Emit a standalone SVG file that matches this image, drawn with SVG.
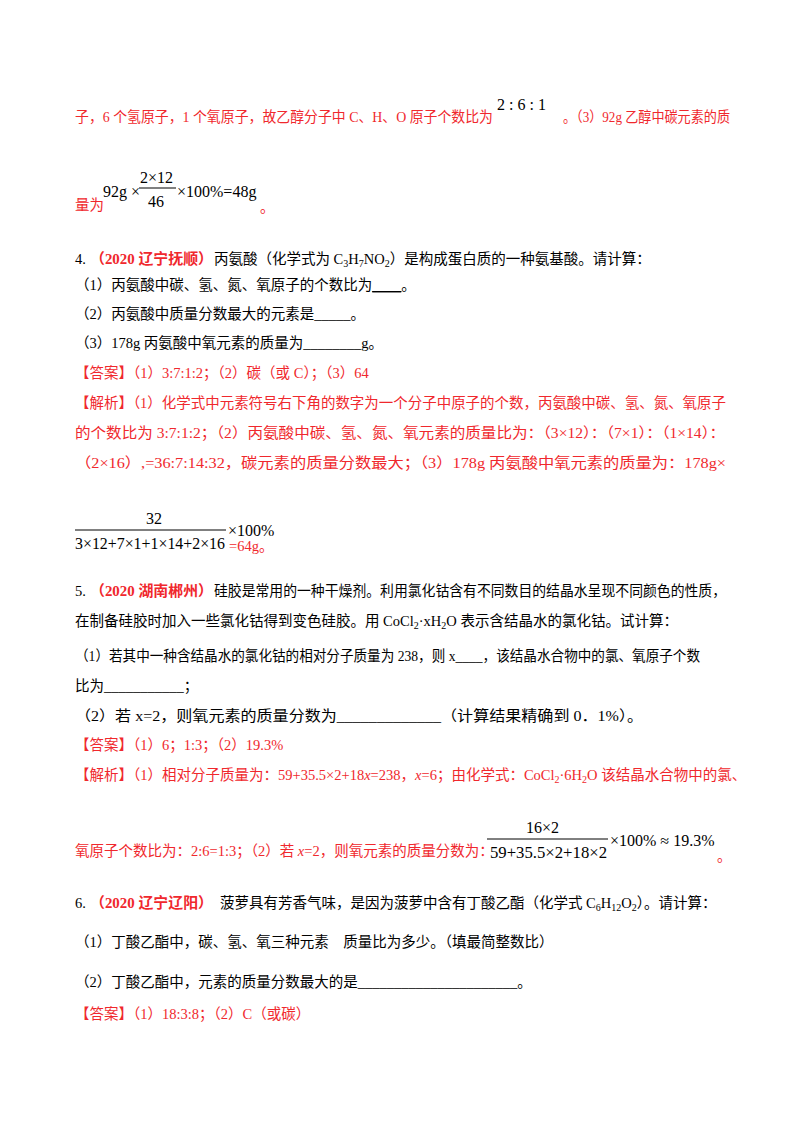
<svg xmlns="http://www.w3.org/2000/svg" width="800" height="1132" viewBox="0 0 800 1132">
<style>
text{font-family:"Liberation Serif","Noto Sans CJK SC",serif;font-size:14.5px;fill:#000}
.r{fill:#f0282d}
.b{font-weight:bold}
.m{font-size:16px}
line{stroke:#000;stroke-width:1}
</style>
<rect width="800" height="1132" fill="#fff"/>
<text class="r" x="75" y="122" textLength="418" lengthAdjust="spacingAndGlyphs">子，6 个氢原子，1 个氧原子，故乙醇分子中 C、H、O 原子个数比为</text>
<text class="m" x="497" y="110">2 : 6 : 1</text>
<text class="r" x="563" y="122" textLength="167" lengthAdjust="spacingAndGlyphs">。（3）92g 乙醇中碳元素的质</text>
<text class="r" x="75" y="210">量为</text>
<text class="m" x="103" y="197">92g ×</text>
<text class="m" x="140" y="183">2×12</text>
<line x1="139" y1="188" x2="176" y2="188"/>
<text class="m" x="148" y="207">46</text>
<text class="m" x="177" y="197">×100%=48g</text>
<text class="r" x="260" y="212">。</text>

<text x="75" y="264">4.</text>
<text class="r b" x="90" y="264" textLength="123" lengthAdjust="spacingAndGlyphs">（2020 辽宁抚顺）</text>
<text x="214" y="264">丙氨酸（化学式为 C<tspan font-size="10" dy="3">3</tspan><tspan dy="-3">H</tspan><tspan font-size="10" dy="3">7</tspan><tspan dy="-3">NO</tspan><tspan font-size="10" dy="3">2</tspan><tspan dy="-3">）是构成蛋白质的一种氨基酸。请计算：</tspan></text>
<text x="75" y="290">（1）丙氨酸中碳、氢、氮、氧原子的个数比为<tspan text-decoration="underline">____</tspan>。</text>
<text x="75" y="319">（2）丙氨酸中质量分数最大的元素是_____。</text>
<text x="75" y="348">（3）178g 丙氨酸中氧元素的质量为________g。</text>
<text class="r" x="75" y="378">【答案】（1）3:7:1:2；（2）碳（或 C）；（3）64</text>
<text class="r" x="75" y="408" textLength="651" lengthAdjust="spacingAndGlyphs">【解析】（1）化学式中元素符号右下角的数字为一个分子中原子的个数，丙氨酸中碳、氢、氮、氧原子</text>
<text class="r" x="75" y="438" textLength="650" lengthAdjust="spacingAndGlyphs">的个数比为 3:7:1:2；（2）丙氨酸中碳、氢、氮、氧元素的质量比为：（3×12）：（7×1）：（1×14）：</text>
<text class="r" x="75" y="468" textLength="651" lengthAdjust="spacingAndGlyphs">（2×16）,=36:7:14:32，碳元素的质量分数最大；（3）178g 丙氨酸中氧元素的质量为：178g×</text>
<text class="m" x="146" y="524">32</text>
<line x1="75" y1="530" x2="226" y2="530"/>
<text class="m" x="75" y="549" textLength="150" lengthAdjust="spacingAndGlyphs">3×12+7×1+1×14+2×16</text>
<text class="m" x="228" y="536">×100%</text>
<text class="r" x="229" y="551">=64g。</text>

<text x="75" y="596">5.</text>
<text class="r b" x="90" y="596" textLength="123" lengthAdjust="spacingAndGlyphs">（2020 湖南郴州）</text>
<text x="214" y="596" textLength="512" lengthAdjust="spacingAndGlyphs">硅胶是常用的一种干燥剂。利用氯化钴含有不同数目的结晶水呈现不同颜色的性质，</text>
<text x="75" y="626">在制备硅胶时加入一些氯化钴得到变色硅胶。用 CoCl<tspan font-size="10" dy="3">2</tspan><tspan dy="-3">·xH</tspan><tspan font-size="10" dy="3">2</tspan><tspan dy="-3">O 表示含结晶水的氯化钴。试计算：</tspan></text>
<text x="75" y="661" textLength="625" lengthAdjust="spacingAndGlyphs">（1）若其中一种含结晶水的氯化钴的相对分子质量为 238，则 x____，该结晶水合物中的氯、氧原子个数</text>
<text x="75" y="691">比为___________；</text>
<text x="75" y="721" textLength="568" lengthAdjust="spacingAndGlyphs">（2）若 x=2，则氧元素的质量分数为_____________（计算结果精确到 0．1%）。</text>
<text class="r" x="75" y="750">【答案】（1）6；1:3；（2）19.3%</text>
<text class="r" x="75" y="780">【解析】（1）相对分子质量为：59+35.5×2+18<tspan font-style="italic">x</tspan>=238，<tspan font-style="italic">x</tspan>=6；由化学式：CoCl<tspan font-size="10" dy="3">2</tspan><tspan dy="-3">·6H</tspan><tspan font-size="10" dy="3">2</tspan><tspan dy="-3">O 该结晶水合物中的氯、</tspan></text>
<text class="r" x="75" y="856" font-size="14px">氧原子个数比为：2:6=1:3；（2）若 <tspan font-style="italic">x</tspan>=2，则氧元素的质量分数为：</text>
<text class="m" x="526" y="833">16×2</text>
<line x1="487" y1="839" x2="608" y2="839"/>
<text class="m" x="490" y="858" textLength="117" lengthAdjust="spacingAndGlyphs">59+35.5×2+18×2</text>
<text class="m" x="610" y="846">×100% ≈ 19.3%</text>
<text class="r" x="717" y="861">。</text>

<text x="75" y="908">6.</text>
<text class="r b" x="90" y="908" textLength="123" lengthAdjust="spacingAndGlyphs">（2020 辽宁辽阳）</text>
<text x="220" y="908">菠萝具有芳香气味，是因为菠萝中含有丁酸乙酯（化学式 C<tspan font-size="10" dy="3">6</tspan><tspan dy="-3">H</tspan><tspan font-size="10" dy="3">12</tspan><tspan dy="-3">O</tspan><tspan font-size="10" dy="3">2</tspan><tspan dy="-3">）。请计算：</tspan></text>
<text x="75" y="947">（1）丁酸乙酯中，碳、氢、氧三种元素　质量比为多少。（填最简整数比）</text>
<text x="75" y="987">（2）丁酸乙酯中，元素的质量分数最大的是______________________。</text>
<text class="r" x="75" y="1019">【答案】（1）18:3:8；（2）C（或碳）</text>
</svg>
